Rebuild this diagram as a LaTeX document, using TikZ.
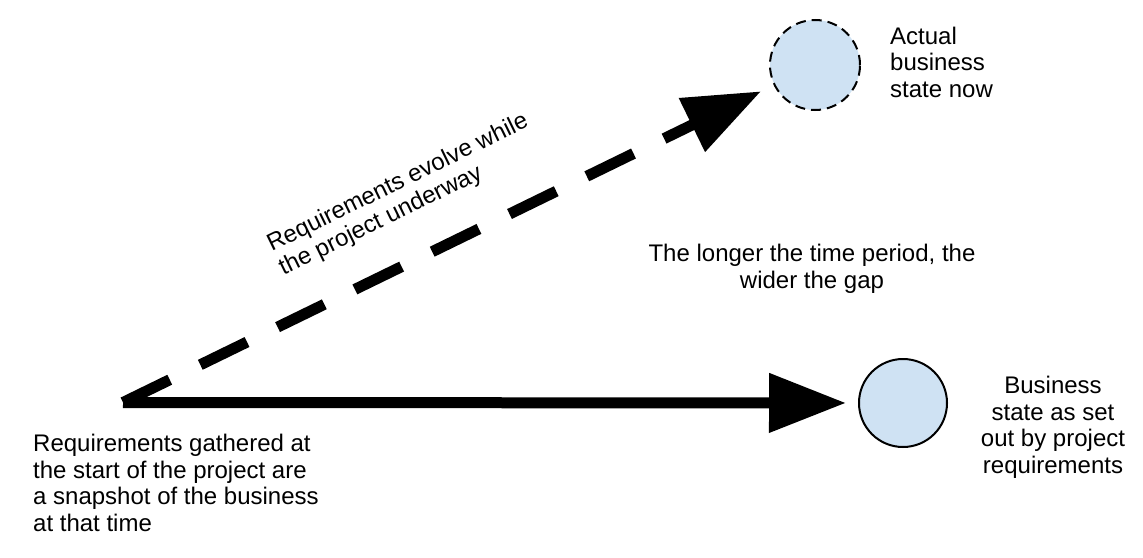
\documentclass[tikz,border=0pt]{standalone}
\usepackage{fontspec}
\setmainfont{Liberation Sans}
\usetikzlibrary{arrows.meta}
\definecolor{stateblue}{HTML}{CFE2F3}
\begin{document}
\begin{tikzpicture}[x=1pt,y=-1pt,
  lbl/.style={inner sep=0pt,font=\fontsize{24pt}{26.5pt}\selectfont},
  state/.style={circle,minimum size=88pt,inner sep=0pt,fill=stateblue,draw=black,line width=2pt},
  bigarrow/.style={line width=11pt,-{Triangle[length=77pt,width=57pt]}}]
\useasboundingbox (0,0) rectangle (1143,557);
\coordinate (start) at (123,402.5);
\node[state] (plan) at (903,403) {};
\node[state,dash pattern=on 10pt off 6pt,minimum size=90pt] (now) at (815,65) {};
\draw[bigarrow,shorten >=12pt] (start) -- (plan);
\draw[bigarrow,dash pattern=on 52pt off 34pt,shorten >=14pt] (start) -- (now);
\node[lbl,align=left,anchor=north west] (nowlbl) at (890,26.5) {Actual\\business\\state now};
\node[lbl,align=center,anchor=north] (planlbl) at (1053,376) {Business\\state as set\\out by project\\requirements};
\node[lbl,align=center,anchor=north] (gaplbl) at (812,244) {The longer the time period, the\\wider the gap};
\node[lbl,align=left,anchor=north west] (startlbl) at (33,434) {Requirements gathered at\\the start of the project are\\a snapshot of the business\\at that time};
\node[lbl,align=left,rotate=26,anchor=north west] (evolvelbl) at (264,236) {Requirements evolve while\\the project underway};
\end{tikzpicture}
\end{document}
